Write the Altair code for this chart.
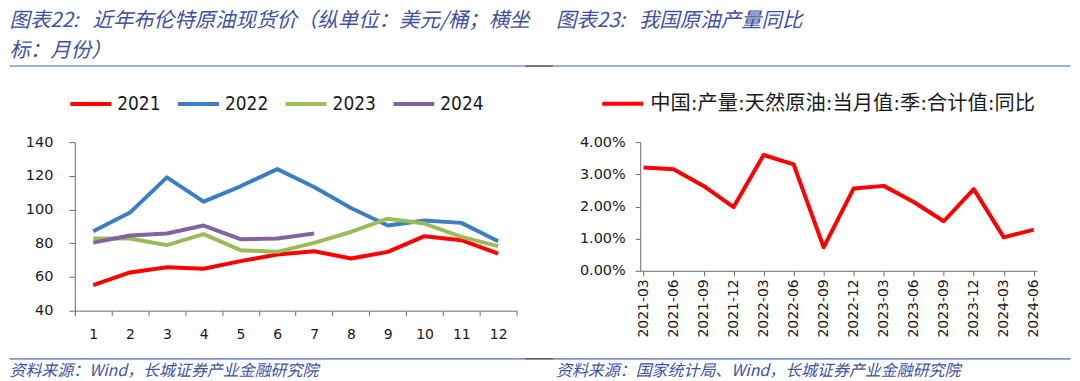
import altair as alt
import pandas as pd

# ---------------- data ----------------
months = list(range(1, 13))
brent_2021 = [55.2, 62.7, 65.8, 64.9, 69.4, 73.3, 75.3, 71.0, 74.9, 84.2, 81.8, 73.9]
brent_2022 = [87.1, 98.2, 119.1, 104.7, 113.8, 124.0, 113.4, 100.9, 90.5, 93.5, 92.1, 81.2]
brent_2023 = [82.8, 82.8, 78.9, 85.4, 75.9, 74.9, 80.2, 86.7, 94.6, 91.7, 83.8, 78.3]
brent_2024 = [80.4, 84.6, 85.8, 90.5, 82.4, 82.8, 85.8]
years = ["2021", "2022", "2023", "2024"]
year_colors = ["#FF0000", "#3C7DC4", "#9BBB59", "#8064A2"]

quarters = ["2021-03", "2021-06", "2021-09", "2021-12", "2022-03", "2022-06", "2022-09",
            "2022-12", "2023-03", "2023-06", "2023-09", "2023-12", "2024-03", "2024-06"]
output_yoy_pct = [3.21, 3.16, 2.64, 1.98, 3.60, 3.31, 0.73, 2.56, 2.64, 2.14, 1.54, 2.54, 1.04, 1.28]
series_name = "中国:产量:天然原油:当月值:季:合计值:同比"

NB = "\u00a0"
left_title_1 = "图表22:" + NB * 3 + "近年布伦特原油现货价（纵单位：美元/桶；横坐"
left_title_2 = "标：月份）"
right_title = "图表23:" + NB * 3 + "我国原油产量同比"
left_source = "资料来源：Wind，长城证券产业金融研究院"
right_source = "资料来源：国家统计局、Wind，长城证券产业金融研究院"

# ---------------- tables ----------------
rows = []
for yr, vals in zip(years, [brent_2021, brent_2022, brent_2023, brent_2024]):
    for m, v in zip(months, vals):
        rows.append({"month": m, "price": v, "year": yr})
df_left = pd.DataFrame(rows)
df_right = pd.DataFrame({"q": quarters, "yoy": [v / 100 for v in output_yoy_pct],
                         "s": [series_name] * len(quarters)})

# ---------------- style ----------------
AX_FONT = "DejaVu Sans"
COND_FONT = "DejaVu Sans Condensed, DejaVu Sans"
AX_COLOR = "#6b6b6b"
LAB_COLOR = "#1a1a1a"
TITLE_COLOR = "#3e51a3"
SEP_BLUE = "#7b94d6"
SEP_DARK = "#555555"
CJK = "Noto Sans CJK SC"

OX1, OY = 73.5, 142.0   # page coords of left plot origin
W1, H1 = 443, 169
OX2 = 640.5
W2, H2 = 398, 129


def txt(s, x, y, size, color=TITLE_COLOR, style="italic", font=CJK, baseline="middle"):
    return alt.Chart(pd.DataFrame({"t": [s]})).mark_text(
        align="left", baseline=baseline, font=font, fontSize=size,
        fontStyle=style, color=color
    ).encode(x=alt.value(x), y=alt.value(y), text="t:N")


def hrule(x1, x2, y, color, opacity=1.0):
    return alt.Chart(pd.DataFrame({"a": [0]})).mark_rule(
        color=color, strokeWidth=1.6, opacity=opacity
    ).encode(x=alt.value(x1), x2=alt.value(x2), y=alt.value(y))


# ---------------- left panel ----------------
left_lines = alt.Chart(df_left).mark_line(strokeWidth=4, strokeJoin="round").encode(
    x=alt.X("month:O",
            scale=alt.Scale(type="band", paddingInner=0, paddingOuter=0),
            axis=alt.Axis(title=None, labelAngle=0, tickBand="extent", tickSize=5,
                          labelPadding=12, labelFont=AX_FONT, labelFontSize=14,
                          labelColor=LAB_COLOR, domainColor=AX_COLOR, tickColor=AX_COLOR,
                          grid=False)),
    y=alt.Y("price:Q",
            scale=alt.Scale(domain=[40, 140], nice=False, zero=False),
            axis=alt.Axis(title=None, values=[40, 60, 80, 100, 120, 140], tickSize=6,
                          labelPadding=16, labelFont=AX_FONT, labelFontSize=14.5,
                          labelColor=LAB_COLOR, domainColor=AX_COLOR, tickColor=AX_COLOR,
                          grid=False)),
    color=alt.Color("year:N",
                    scale=alt.Scale(domain=years, range=year_colors),
                    legend=alt.Legend(orient="none", legendX=-6.5, legendY=-61,
                                      direction="horizontal", columns=4, title=None,
                                      symbolType="stroke", symbolSize=1681,
                                      symbolStrokeWidth=4, labelFont=COND_FONT,
                                      labelFontSize=19, labelColor=LAB_COLOR,
                                      labelOffset=4, columnPadding=9, padding=0)),
)

left = alt.layer(
    left_lines,
    hrule(8 - OX1, 20 - OX1, 8.8 - OY, "#ffffff", 0.0),
    txt(left_title_1, 8 - OX1, 21 - OY, 20.5),
    txt(left_title_2, 8 - OX1, 51 - OY, 20.5),
    hrule(8 - OX1, 525 - OX1, 65.7 - OY, SEP_BLUE),
    hrule(525 - OX1, 553 - OX1, 65.7 - OY, SEP_DARK),
    hrule(8 - OX1, 525 - OX1, 359.3 - OY, SEP_BLUE),
    hrule(525 - OX1, 553 - OX1, 359.3 - OY, SEP_DARK),
    txt(left_source, 8 - OX1, 371.5 - OY, 16),
).properties(width=W1, height=H1)

# ---------------- right panel ----------------
right_line = alt.Chart(df_right).mark_line(strokeWidth=4, strokeJoin="round").encode(
    x=alt.X("q:O", sort=quarters,
            scale=alt.Scale(type="point", padding=0.11),
            axis=alt.Axis(title=None, labelAngle=270, tickSize=5, labelPadding=3,
                          labelFont=AX_FONT, labelFontSize=14, labelColor=LAB_COLOR,
                          domainColor=AX_COLOR, tickColor=AX_COLOR, grid=False)),
    y=alt.Y("yoy:Q",
            scale=alt.Scale(domain=[0, 0.04], nice=False),
            axis=alt.Axis(title=None, values=[0, 0.01, 0.02, 0.03, 0.04], format=".2%",
                          tickSize=5, labelPadding=10, labelFont=AX_FONT, labelFontSize=14.5,
                          labelColor=LAB_COLOR, domainColor=AX_COLOR, tickColor=AX_COLOR,
                          grid=False)),
    color=alt.Color("s:N",
                    scale=alt.Scale(domain=[series_name], range=["#FF0000"]),
                    legend=alt.Legend(orient="none", legendX=-40, legendY=-61,
                                      direction="horizontal", title=None,
                                      symbolType="stroke", symbolSize=1681,
                                      symbolStrokeWidth=4,
                                      labelFont="DejaVu Sans, " + CJK,
                                      labelFontSize=20.3, labelColor=LAB_COLOR,
                                      labelOffset=5, padding=0, labelLimit=600)),
)

right = alt.layer(
    right_line,
    txt(right_title, 556 - OX2, 21 - OY, 20.5),
    hrule(553 - OX2, 1072 - OX2, 65.7 - OY, SEP_BLUE),
    hrule(553 - OX2, 1072 - OX2, 359.3 - OY, SEP_BLUE),
    txt(right_source, 556 - OX2, 371.5 - OY, 16),
).properties(width=W2, height=H2)

chart = alt.hconcat(left, right, spacing=OX2 - (OX1 + W1), bounds="flush").resolve_scale(
    color="independent"
).resolve_legend(color="independent").properties(
    padding=0, background="white"
).configure_view(stroke=None)

chart.save("out.html", embed_options={"renderer": "svg", "actions": False})
